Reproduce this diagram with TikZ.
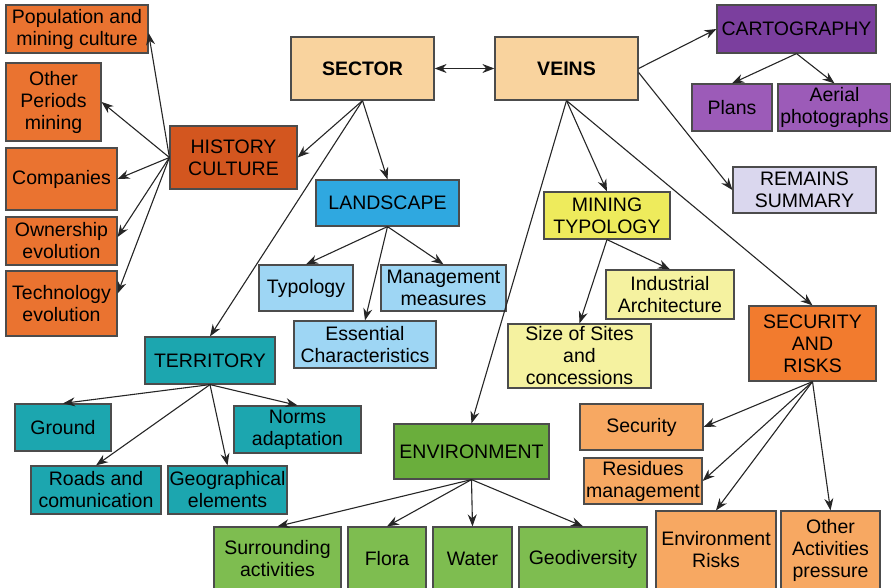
\documentclass[tikz,border=0pt]{standalone}
\usepackage{fontspec}
\setmainfont{Liberation Sans}
\usetikzlibrary{arrows.meta}

\definecolor{orgA}{HTML}{EA7330}
\definecolor{histC}{HTML}{D3561F}
\definecolor{peach}{HTML}{F9D39E}
\definecolor{cartoC}{HTML}{7B3F9E}
\definecolor{purpL}{HTML}{9C5BB8}
\definecolor{remC}{HTML}{DAD7EE}
\definecolor{landC}{HTML}{2FA8E0}
\definecolor{blueL}{HTML}{9ED6F4}
\definecolor{mtC}{HTML}{EEEB5C}
\definecolor{yelL}{HTML}{F5F2A0}
\definecolor{secC}{HTML}{F27B2E}
\definecolor{secL}{HTML}{F7A862}
\definecolor{tealC}{HTML}{1CA6AF}
\definecolor{envC}{HTML}{6AAE3C}
\definecolor{envL}{HTML}{7EBD50}

\tikzset{
  box/.style={draw=black!70, line width=1.2pt, align=center, inner sep=0pt,
    font=\fontsize{19.5}{22}\selectfont},
  arr/.style={line width=1.1pt, draw=black!85, -{Stealth[length=12pt,width=9pt]}}
}

\begin{document}
\begin{tikzpicture}[x=1pt,y=-1pt]

			\useasboundingbox (0,0) rectangle (891,588);

			% Nodos principales
			\node[box, fill=peach, minimum width=143pt, minimum height=63pt, font=\fontsize{19.5}{22}\selectfont\bfseries] (sector) at (362.5,68.5) {SECTOR};
			\node[box, fill=peach, minimum width=143pt, minimum height=63pt, font=\fontsize{19.5}{22}\selectfont\bfseries] (veins) at (566.5,68.5) {VEINS};

			% Historia y cultura
			\node[box, fill=histC, minimum width=127pt, minimum height=63pt] (hist) at (233.5,157.5) {HISTORY\\CULTURE};
			\node[box, fill=orgA, minimum width=142pt, minimum height=48pt] (pop) at (77,29) {Population and\\mining culture};
			\node[box, fill=orgA, minimum width=95pt, minimum height=78pt] (other) at (53.5,102) {Other\\Periods\\mining};
			\node[box, fill=orgA, minimum width=111pt, minimum height=62pt] (comp) at (61.5,179) {Companies};
			\node[box, fill=orgA, minimum width=111pt, minimum height=48pt] (own) at (61.5,241) {Ownership\\evolution};
			\node[box, fill=orgA, minimum width=111pt, minimum height=65pt] (tech) at (61.5,303.5) {Technology\\evolution};

			% Cartografia
			\node[box, fill=cartoC, minimum width=159pt, minimum height=48pt] (carto) at (796.5,29) {CARTOGRAPHY};
			\node[box, fill=purpL, minimum width=80pt, minimum height=47pt] (plans) at (732,107.5) {Plans};
			\node[box, fill=purpL, minimum width=113pt, minimum height=47pt] (aerial) at (834.5,107.5) {Aerial\\photographs};
			\node[box, fill=remC, minimum width=143pt, minimum height=46pt] (remains) at (804.5,190) {REMAINS\\SUMMARY};

			% Paisaje
			\node[box, fill=landC, minimum width=143pt, minimum height=46pt] (land) at (387.5,203) {LANDSCAPE};
			\node[box, fill=blueL, minimum width=94pt, minimum height=46pt] (typo) at (306,288) {Typology};
			\node[box, fill=blueL, minimum width=125pt, minimum height=46pt] (mgmt) at (443.5,288) {Management\\measures};
			\node[box, fill=blueL, minimum width=142pt, minimum height=47pt] (ess) at (365,344.5) {Essential\\Characteristics};

			% Tipologia minera
			\node[box, fill=mtC, minimum width=126pt, minimum height=47pt] (mt) at (607,215.5) {MINING\\TYPOLOGY};
			\node[box, fill=yelL, minimum width=128pt, minimum height=49pt] (ind) at (670,294.5) {Industrial\\Architecture};
			\node[box, fill=yelL, minimum width=143pt, minimum height=64pt] (size) at (579.5,356) {Size of Sites\\and\\concessions};

			% Territorio
			\node[box, fill=tealC, minimum width=130pt, minimum height=47pt] (terr) at (210,360.5) {TERRITORY};
			\node[box, fill=tealC, minimum width=96pt, minimum height=47pt] (ground) at (63,427.5) {Ground};
			\node[box, fill=tealC, minimum width=127pt, minimum height=47pt] (norms) at (297.5,429.5) {Norms\\adaptation};
			\node[box, fill=tealC, minimum width=130pt, minimum height=48pt] (roads) at (96,490) {Roads and\\comunication};
			\node[box, fill=tealC, minimum width=119pt, minimum height=48pt] (geo) at (227.5,490) {Geographical\\elements};

			% Medio ambiente
			\node[box, fill=envC, minimum width=155pt, minimum height=55pt] (env) at (471.5,451.5) {ENVIRONMENT};
			\node[box, fill=envL, minimum width=127pt, minimum height=64pt] (surr) at (277.5,559) {Surrounding\\activities};
			\node[box, fill=envL, minimum width=78pt, minimum height=64pt] (flora) at (387,559) {Flora};
			\node[box, fill=envL, minimum width=79pt, minimum height=64pt] (water) at (472.5,559) {Water};
			\node[box, fill=envL, minimum width=128pt, minimum height=64pt] (geod) at (583,559) {Geodiversity};

			% Seguridad y riesgos
			\node[box, fill=secC, minimum width=127pt, minimum height=75pt] (sec) at (812.5,343.5) {SECURITY\\AND\\RISKS};
			\node[box, fill=secL, minimum width=123pt, minimum height=46pt] (secu) at (641.5,427) {Security};
			\node[box, fill=secL, minimum width=118pt, minimum height=46pt] (resid) at (643,481) {Residues\\management};
			\node[box, fill=secL, minimum width=120pt, minimum height=78pt] (envr) at (716,550) {Environment\\Risks};
			\node[box, fill=secL, minimum width=99pt, minimum height=78pt] (oth) at (830.5,550) {Other\\Activities\\pressure};

			% Flechas
			\draw[line width=1.1pt, draw=black!85, {Stealth[length=12pt,width=9pt]}-{Stealth[length=12pt,width=9pt]}] (sector.east) -- (veins.west);
			\draw[arr] (sector.south) -- (hist.east);
			\draw[arr] (sector.south) -- (land.north);
			\draw[arr] (sector.south) -- (terr.north);

			\draw[arr] (hist.west) -- ([yshift=-4pt]pop.east);
			\draw[arr] (hist.west) -- (other.east);
			\draw[arr] (hist.west) -- (comp.east);
			\draw[arr] (hist.west) -- ([yshift=4pt]own.east);
			\draw[arr] (hist.west) -- ([yshift=10pt]tech.east);

			\draw[arr] (veins.east) -- (carto.west);
			\draw[arr] ([yshift=-4pt]veins.east) -- (remains.west);
			\draw[arr] (veins.south) -- (mt.north);
			\draw[arr] (veins.south) -- (env.north);
			\draw[arr] (veins.south) -- (sec.north);

			\draw[arr] (carto.south) -- (plans.north);
			\draw[arr] (carto.south) -- (aerial.north);

			\draw[arr] (land.south) -- (typo.north);
			\draw[arr] (land.south) -- (mgmt.north);
			\draw[arr] (land.south) -- (ess.north);

			\draw[arr] (mt.south) -- (ind.north);
			\draw[arr] (mt.south) -- (size.north);

			\draw[arr] (terr.south) -- (ground.north);
			\draw[arr] (terr.south) -- (roads.north);
			\draw[arr] (terr.south) -- (geo.north);
			\draw[arr] (terr.south) -- (norms.north);

			\draw[arr] (env.south) -- (surr.north);
			\draw[arr] (env.south) -- (flora.north);
			\draw[arr] (env.south) -- (water.north);
			\draw[arr] (env.south) -- (geod.north);

			\draw[arr] (sec.south) -- (secu.east);
			\draw[arr] (sec.south) -- (resid.east);
			\draw[arr] (sec.south) -- (envr.north);
			\draw[arr] (sec.south) -- (oth.north);

		\end{tikzpicture}
\end{document}
